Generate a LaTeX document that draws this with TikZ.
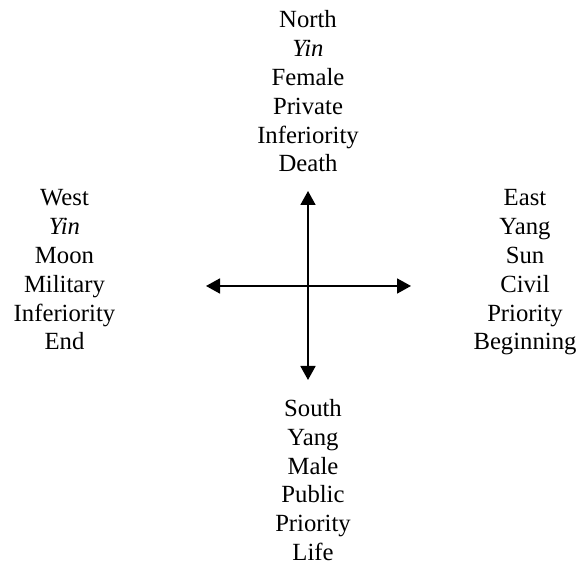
\documentclass[tikz,border=0pt]{standalone}
\usepackage{fontspec}
\setmainfont{Liberation Serif}
\usetikzlibrary{arrows.meta}
\begin{document}
\begin{tikzpicture}[x=1pt,y=1pt,
  lbl/.style={align=center, inner sep=0pt, anchor=base, font=\fontsize{24.7}{28.8}\selectfont},
  axis/.style={line width=1.8pt, {Triangle[length=14pt,width=15pt]}-{Triangle[length=14pt,width=15pt]}}]
\useasboundingbox (0,0) rectangle (579,565);
\node[lbl] (north) at (308,393) {North\\\textit{Yin}\\Female\\Private\\Inferiority\\Death};
\node[lbl] (west) at (64.5,215) {West\\\textit{Yin}\\Moon\\Military\\Inferiority\\End};
\node[lbl] (east) at (525,215) {East\\Yang\\Sun\\Civil\\Priority\\Beginning};
\node[lbl] (south) at (313,4.5) {South\\Yang\\Male\\Public\\Priority\\Life};
\coordinate (ntip) at (308,374);
\coordinate (stip) at (308,185);
\coordinate (wtip) at (206,279);
\coordinate (etip) at (411,279);
\draw[axis] (ntip) -- (stip);
\draw[axis] (wtip) -- (etip);
\end{tikzpicture}
\end{document}
